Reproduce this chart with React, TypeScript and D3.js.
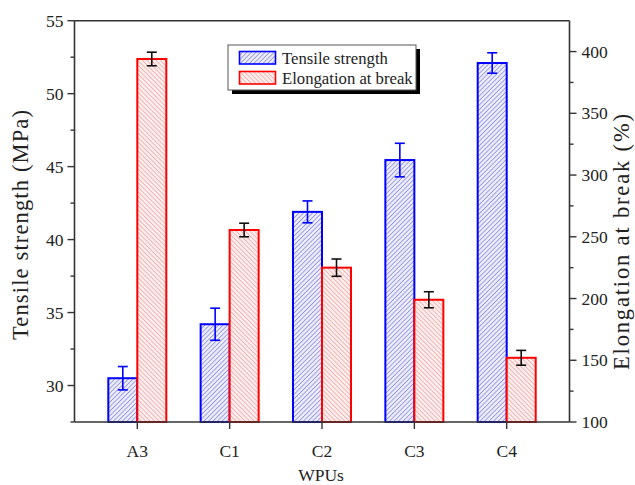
import React from "react";
import * as d3 from "d3";

const categories = ["A3", "C1", "C2", "C3", "C4"];
const tensile = [30.5, 34.2, 41.9, 45.45, 52.1];
const tensileErr = [0.8, 1.1, 0.75, 1.15, 0.7];
const elongation = [394, 255.5, 225, 199, 152];
const elongationErr = [5.5, 5.5, 7, 6.5, 6];
const leftTicks = [30, 35, 40, 45, 50, 55];
const rightTicks = [100, 150, 200, 250, 300, 350, 400];

const W = 635;
const H = 485;
const M = { left: 74.5, right: 65.5, top: 20.7, bottom: 63 };
const FONT = '"Liberation Serif", "Times New Roman", "DejaVu Serif", serif';

export default function App() {
  const x = d3
    .scalePoint<string>()
    .domain(categories)
    .range([M.left, W - M.right])
    .padding(0.68);
  const yL = d3.scaleLinear().domain([27.5, 55]).range([H - M.bottom, M.top]);
  const yR = d3.scaleLinear().domain([100, 425]).range([H - M.bottom, M.top]);
  const barW = 29;
  const axisColor = "#333";
  const bottom = H - M.bottom;
  const leftMinor = d3.range(27.5, 55, 5);
  const rightMinor = d3.range(125, 425, 50);

  return (
    <svg
      width={W}
      height={H}
      style={{ position: "absolute", left: 0, top: 0, fontFamily: FONT }}
    >
      <defs>
        <pattern id="hatchBlue" patternUnits="userSpaceOnUse" width="3.2" height="3.2" patternTransform="rotate(45)">
          <rect width="3.2" height="3.2" fill="#ececfb" />
          <line x1="0" y1="0" x2="0" y2="3.2" stroke="#5555dd" strokeWidth="1" />
        </pattern>
        <pattern id="hatchRed" patternUnits="userSpaceOnUse" width="3.2" height="3.2" patternTransform="rotate(-45)">
          <rect width="3.2" height="3.2" fill="#fdeeee" />
          <line x1="0" y1="0" x2="0" y2="3.2" stroke="#ee8282" strokeWidth="1" />
        </pattern>
      </defs>
      <rect width={W} height={H} fill="#fff" />

      {/* bars */}
      {categories.map((c, i) => {
        const cx = x(c) as number;
        return (
          <g key={c}>
            <rect
              x={cx - barW}
              y={yL(tensile[i])}
              width={barW}
              height={bottom - yL(tensile[i])}
              fill="url(#hatchBlue)"
              stroke="#0000ff"
              strokeWidth={2}
            />
            <rect
              x={cx}
              y={yR(elongation[i])}
              width={barW}
              height={bottom - yR(elongation[i])}
              fill="url(#hatchRed)"
              stroke="#ff0000"
              strokeWidth={2}
            />
          </g>
        );
      })}

      {/* error bars */}
      {categories.map((c, i) => {
        const cx = x(c) as number;
        const bx = cx - barW / 2;
        const rx = cx + barW / 2;
        const t0 = yL(tensile[i] + tensileErr[i]);
        const t1 = yL(tensile[i] - tensileErr[i]);
        const e0 = yR(elongation[i] + elongationErr[i]);
        const e1 = yR(elongation[i] - elongationErr[i]);
        const cap = 5;
        return (
          <g key={"e" + c} strokeWidth={1.6}>
            <g stroke="#0000ff">
              <line x1={bx} x2={bx} y1={t0} y2={t1} />
              <line x1={bx - cap} x2={bx + cap} y1={t0} y2={t0} />
              <line x1={bx - cap} x2={bx + cap} y1={t1} y2={t1} />
            </g>
            <g stroke="#111">
              <line x1={rx} x2={rx} y1={e0} y2={e1} />
              <line x1={rx - cap} x2={rx + cap} y1={e0} y2={e0} />
              <line x1={rx - cap} x2={rx + cap} y1={e1} y2={e1} />
            </g>
          </g>
        );
      })}

      {/* frame */}
      <g stroke={axisColor} strokeWidth={1.6} fill="none">
        <line x1={M.left} x2={W - M.right} y1={M.top} y2={M.top} />
        <line x1={M.left} x2={W - M.right} y1={bottom} y2={bottom} />
        <line x1={M.left} x2={M.left} y1={M.top} y2={bottom} />
        <line x1={W - M.right} x2={W - M.right} y1={M.top} y2={bottom} />
      </g>

      {/* left axis */}
      <g stroke={axisColor} strokeWidth={1.4}>
        {leftTicks.map((t) => (
          <line key={t} x1={M.left - 7} x2={M.left} y1={yL(t)} y2={yL(t)} />
        ))}
        {leftMinor.map((t) => (
          <line key={"m" + t} x1={M.left - 4} x2={M.left} y1={yL(t)} y2={yL(t)} />
        ))}
      </g>
      {leftTicks.map((t) => (
        <text key={"l" + t} x={M.left - 11} y={yL(t)} dy="0.35em" textAnchor="end" fontSize={17.5} fill="#222">
          {t}
        </text>
      ))}
      <text
        transform="translate(28,225) rotate(-90)"
        textAnchor="middle"
        fontSize={22.5}
        textLength={230}
        lengthAdjust="spacing"
        fill="#222"
      >
        Tensile strength (MPa)
      </text>

      {/* right axis */}
      <g stroke={axisColor} strokeWidth={1.4}>
        {rightTicks.map((t) => (
          <line key={t} x1={W - M.right} x2={W - M.right + 7} y1={yR(t)} y2={yR(t)} />
        ))}
        {rightMinor.map((t) => (
          <line key={"m" + t} x1={W - M.right} x2={W - M.right + 4} y1={yR(t)} y2={yR(t)} />
        ))}
      </g>
      {rightTicks.map((t) => (
        <text key={"r" + t} x={W - M.right + 12} y={yR(t)} dy="0.35em" textAnchor="start" fontSize={17.5} fill="#222">
          {t}
        </text>
      ))}
      <text
        transform="translate(629,242) rotate(-90)"
        textAnchor="middle"
        fontSize={22.5}
        textLength={256}
        lengthAdjust="spacing"
        fill="#222"
      >
        Elongation at break (%)
      </text>

      {/* bottom axis */}
      <g stroke={axisColor} strokeWidth={1.4}>
        {categories.map((c) => (
          <line key={c} x1={x(c) as number} x2={x(c) as number} y1={bottom} y2={bottom + 7} />
        ))}
      </g>
      {categories.map((c) => (
        <text key={"c" + c} x={x(c) as number} y={457} textAnchor="middle" fontSize={17.5} fill="#222">
          {c}
        </text>
      ))}
      <text x={321} y={481} textAnchor="middle" fontSize={17.5} fill="#222">
        WPUs
      </text>

      {/* legend */}
      <g>
        <rect x={232} y={49} width={188} height={45} fill="#000" />
        <rect x={228} y={45} width={188} height={45} fill="#fff" stroke="#555" strokeWidth={1} />
        <rect x={239.5} y={51.5} width={36} height={12.5} fill="url(#hatchBlue)" stroke="#0000ff" strokeWidth={1.6} />
        <rect x={239.5} y={71.5} width={36} height={12.5} fill="url(#hatchRed)" stroke="#ff0000" strokeWidth={1.6} />
        <text x={282} y={63.5} fontSize={16.7} fill="#222">
          Tensile strength
        </text>
        <text x={282} y={84} fontSize={16.7} fill="#222">
          Elongation at break
        </text>
      </g>
    </svg>
  );
}
